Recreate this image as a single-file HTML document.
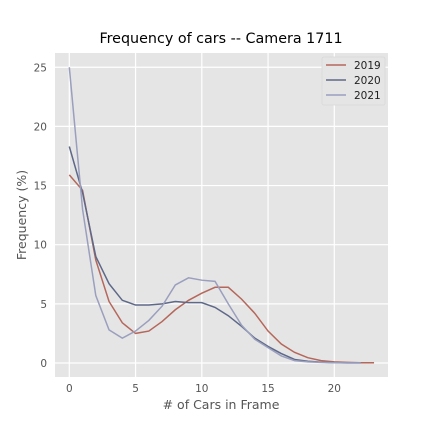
<!DOCTYPE html>
<html><head><meta charset="utf-8"><style>
body{margin:0;background:#fff;}
svg{display:block;font-family:"DejaVu Sans","Liberation Sans",sans-serif;}
</style></head><body>
<svg id="chart" width="432" height="432">
<rect x="55" y="53" width="333" height="324" fill="#e5e5e5"/>
<g id="grid"></g>
<g id="lines"></g>
<text x="221" y="43" text-anchor="middle" font-size="14.3" fill="#000">Frequency of cars -- Camera 1711</text>
<text x="221" y="409" text-anchor="middle" font-size="12.5" fill="#555"># of Cars in Frame</text>
<text transform="translate(26,215) rotate(-90)" text-anchor="middle" font-size="12.5" fill="#555">Frequency (%)</text>
<g id="legend"></g>
</svg>
<script>
const years = ["2019","2020","2021"];
const s2019 = [15.9,14.6,8.7,5.2,3.4,2.5,2.7,3.5,4.5,5.3,5.9,6.4,6.4,5.4,4.2,2.7,1.6,0.9,0.45,0.2,0.1,0.05,0.02,0.02];
const s2020 = [18.3,14.4,9.0,6.7,5.3,4.9,4.9,5.0,5.2,5.1,5.1,4.7,4.0,3.1,2.1,1.4,0.8,0.3,0.15,0.07,0.03,0.01,0.01];
const s2021 = [25.0,13.0,5.7,2.8,2.1,2.7,3.6,4.8,6.6,7.2,7.0,6.9,5.0,3.2,2.0,1.3,0.6,0.2,0.1,0.05,0.02,0.01,0.01];
const xTicks = [0,5,10,15,20];
const yTicks = [0,5,10,15,20,25];
const colors = ["#b5675b","#5e6888","#9a9fbe"];
const NS="http://www.w3.org/2000/svg";
const X=v=>69.3+v*13.25, Y=v=>363-v*11.83;
function mk(t,a,p){const e=document.createElementNS(NS,t);for(const k in a)e.setAttribute(k,a[k]);p.appendChild(e);return e;}
const grid=document.getElementById('grid');
xTicks.forEach(t=>{
 const l=mk('line',{x1:X(t),x2:X(t),y1:53,y2:377,stroke:'#fff','stroke-width':1.2},grid);
 
 
 const tx=mk('text',{x:X(t),y:392,'text-anchor':'middle','font-size':10.5,fill:'#555'},grid);
 tx.textContent=t;
 
 
});
yTicks.forEach(t=>{
 const l=mk('line',{x1:55,x2:388,y1:Y(t),y2:Y(t),stroke:'#fff','stroke-width':1.2},grid);
 
 
 const tx=mk('text',{x:47,y:Y(t)+4,'text-anchor':'end','font-size':10.5,fill:'#555'},grid);
 tx.textContent=t;
 
 
});
const lines=document.getElementById('lines');
[s2019,s2020,s2021].forEach((s,i)=>{
 const p=mk('polyline',{points:s.map((v,j)=>X(j)+','+Y(v)).join(' '),fill:'none',stroke:colors[i],'stroke-width':1.5},lines);
 
 
});
const lg=document.getElementById('legend');
mk('rect',{x:322,y:57,width:63,height:48,fill:'#e5e5e5',stroke:'#d8d8d8','stroke-width':0.8,rx:2},lg);
years.forEach((y,i)=>{
 const yy=65+i*15;
 const l=mk('line',{x1:326,x2:346,y1:yy,y2:yy,stroke:colors[i],'stroke-width':1.5},lg);
 
 
 const t=mk('text',{x:354,y:yy+4,'font-size':10.5,fill:'#222'},lg);
 t.textContent=y;
 
 
});
</script>
</body></html>
